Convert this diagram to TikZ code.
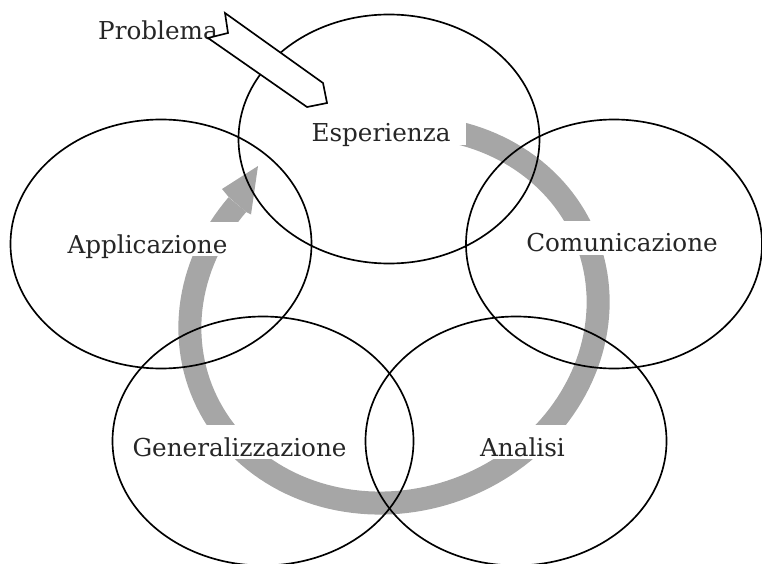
\documentclass[tikz,border=0pt]{standalone}
\usepackage{fontspec}
\setmainfont{DejaVu Serif}
\usetikzlibrary{shapes.geometric}
\definecolor{bandgray}{RGB}{166,166,166}
\definecolor{txtgray}{RGB}{38,38,38}
\tikzset{
  ring/.style={draw, ellipse, line width=1.25pt, minimum width=225.75pt, minimum height=186.75pt, inner sep=0pt},
  lbl/.style={fill=white, text=txtgray, font=\fontsize{18.5}{20}\selectfont, inner xsep=12pt, inner ysep=2.25pt, text height=21pt, text depth=0pt, anchor=base},
  band/.style={draw=bandgray, line width=17.25pt}
}
\begin{document}
\begin{tikzpicture}[x=0.75pt, y=-0.75pt]
\useasboundingbox (0,0) rectangle (762,563);

% cycle arrow
\draw[band] plot[domain=56:-238, samples=140, variable=\t]
  ({394+206.5*cos(\t)*cos(20)-185.5*sin(\t)*sin(20)}, {315-206.5*cos(\t)*sin(20)-185.5*sin(\t)*cos(20)});
\fill[bandgray] (228.7,197) -- (222,189) -- (258,166) -- (251,214.5) -- (246.1,212) -- cycle;

\node[lbl] (prob) at (158,39.5) {Problema};
\node[lbl] (espt) at (381,142) {Esperienza};
\node[lbl] (appt) at (147.5,253) {Applicazione};
\node[lbl] (comt) at (622,251.5) {Comunicazione};
\node[lbl] (gent) at (239.5,456) {Generalizzazione};
\node[lbl] (anat) at (522.5,456) {Analisi};
%
\node[ring] (espe) at (389,139) {};
\node[ring] (appl) at (161,244) {};
\node[ring, minimum width=222pt] (comu) at (614,244) {};
\node[ring] (gene) at (263,441) {};
\node[ring] (anal) at (516,441) {};

\draw[line width=1.25pt, fill=white] (225,13) -- (323,83) -- (327,103) -- (307,107) -- (208,38) -- (228,33) -- cycle;

\end{tikzpicture}
\end{document}
